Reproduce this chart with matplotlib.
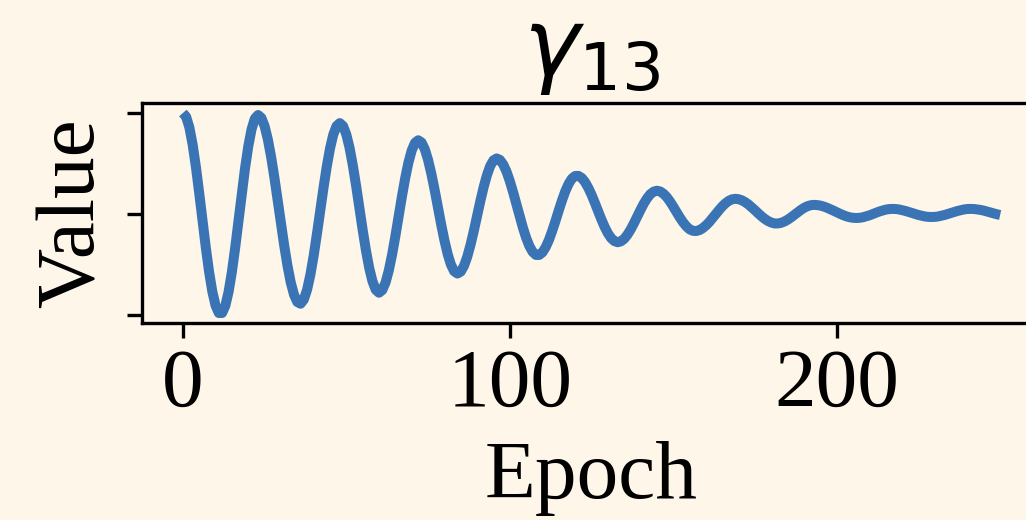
import matplotlib
matplotlib.use("Agg")
import matplotlib.pyplot as plt

# Training trace of the gamma_13 parameter, one value per epoch
epochs = list(range(0, 251))
values = [
    1.000, 0.963, 0.856, 0.685, 0.463, 0.207, -0.063, -0.328, -0.569, -0.767,
    -0.907, -0.981, -0.981, -0.908, -0.769, -0.573, -0.335, -0.072, 0.196, 0.448,
    0.668, 0.837, 0.944, 0.980, 0.952, 0.870, 0.738, 0.565, 0.360, 0.137,
    -0.092, -0.313, -0.512, -0.678, -0.800, -0.872, -0.889, -0.848, -0.750, -0.603,
    -0.416, -0.200, 0.028, 0.255, 0.466, 0.647, 0.785, 0.870, 0.900, 0.871,
    0.787, 0.654, 0.480, 0.278, 0.060, -0.158, -0.360, -0.534, -0.667, -0.751,
    -0.780, -0.754, -0.679, -0.559, -0.403, -0.221, -0.025, 0.171, 0.353, 0.509,
    0.629, 0.704, 0.730, 0.708, 0.642, 0.537, 0.400, 0.241, 0.070, -0.101,
    -0.260, -0.397, -0.502, -0.568, -0.590, -0.571, -0.514, -0.423, -0.305, -0.168,
    -0.020, 0.128, 0.265, 0.383, 0.474, 0.531, 0.550, 0.535, 0.490, 0.420,
    0.327, 0.218, 0.100, -0.020, -0.134, -0.236, -0.318, -0.376, -0.406, -0.406,
    -0.380, -0.328, -0.256, -0.166, -0.067, 0.037, 0.136, 0.226, 0.298, 0.350,
    0.376, 0.377, 0.357, 0.317, 0.260, 0.191, 0.112, 0.029, -0.052, -0.127,
    -0.191, -0.239, -0.269, -0.280, -0.271, -0.246, -0.205, -0.153, -0.091, -0.025,
    0.041, 0.103, 0.155, 0.196, 0.221, 0.230, 0.223, 0.201, 0.168, 0.124,
    0.073, 0.019, -0.034, -0.082, -0.122, -0.152, -0.167, -0.169, -0.160, -0.141,
    -0.114, -0.081, -0.042, -0.002, 0.038, 0.075, 0.106, 0.130, 0.145, 0.150,
    0.146, 0.135, 0.117, 0.094, 0.066, 0.037, 0.006, -0.023, -0.049, -0.070,
    -0.085, -0.094, -0.094, -0.088, -0.075, -0.057, -0.035, -0.010, 0.015, 0.039,
    0.060, 0.076, 0.086, 0.090, 0.088, 0.083, 0.074, 0.062, 0.048, 0.033,
    0.017, 0.002, -0.012, -0.024, -0.033, -0.038, -0.040, -0.038, -0.033, -0.024,
    -0.014, -0.001, 0.011, 0.024, 0.034, 0.043, 0.048, 0.050, 0.049, 0.045,
    0.038, 0.030, 0.020, 0.010, 0.000, -0.010, -0.018, -0.025, -0.029, -0.030,
    -0.029, -0.025, -0.018, -0.010, 0.000, 0.010, 0.020, 0.030, 0.038, 0.045,
    0.049, 0.050, 0.049, 0.045, 0.040, 0.033, 0.024, 0.015, 0.006, -0.003,
    -0.010,
]
xticks = [0, 100, 200]
yticks = [-1, 0, 1]
title = r"$\gamma_{13}$"
xlabel = "Epoch"
ylabel = "Value"

bg = "#FDF6E9"
line_color = "#3A74B4"

fig = plt.figure(figsize=(3.42, 520 / 300), dpi=300, facecolor=bg)
ax = fig.add_axes([142 / 1026, 1 - 323 / 520, 899 / 1026, 220 / 520])
ax.set_facecolor(bg)

ax.plot(epochs, values, color=line_color, lw=2.4, solid_capstyle="butt",
        solid_joinstyle="round")

ax.set_xticks(xticks)
ax.set_yticks(yticks)
ax.set_yticklabels([])
serif = ["Liberation Serif", "DejaVu Serif"]
for lab in ax.get_xticklabels():
    lab.set_fontfamily(serif)
    lab.set_fontsize(20)
ax.tick_params(axis="x", pad=2.5)
ax.set_xlabel(xlabel, fontsize=20, family=serif, labelpad=4.0)
ax.set_ylabel(ylabel, fontsize=20, family=serif, labelpad=0.3)
ax.set_title(title, fontsize=22.7, y=1.027, pad=0, va="bottom")

fig.savefig("out.png", dpi=300, facecolor=bg)
